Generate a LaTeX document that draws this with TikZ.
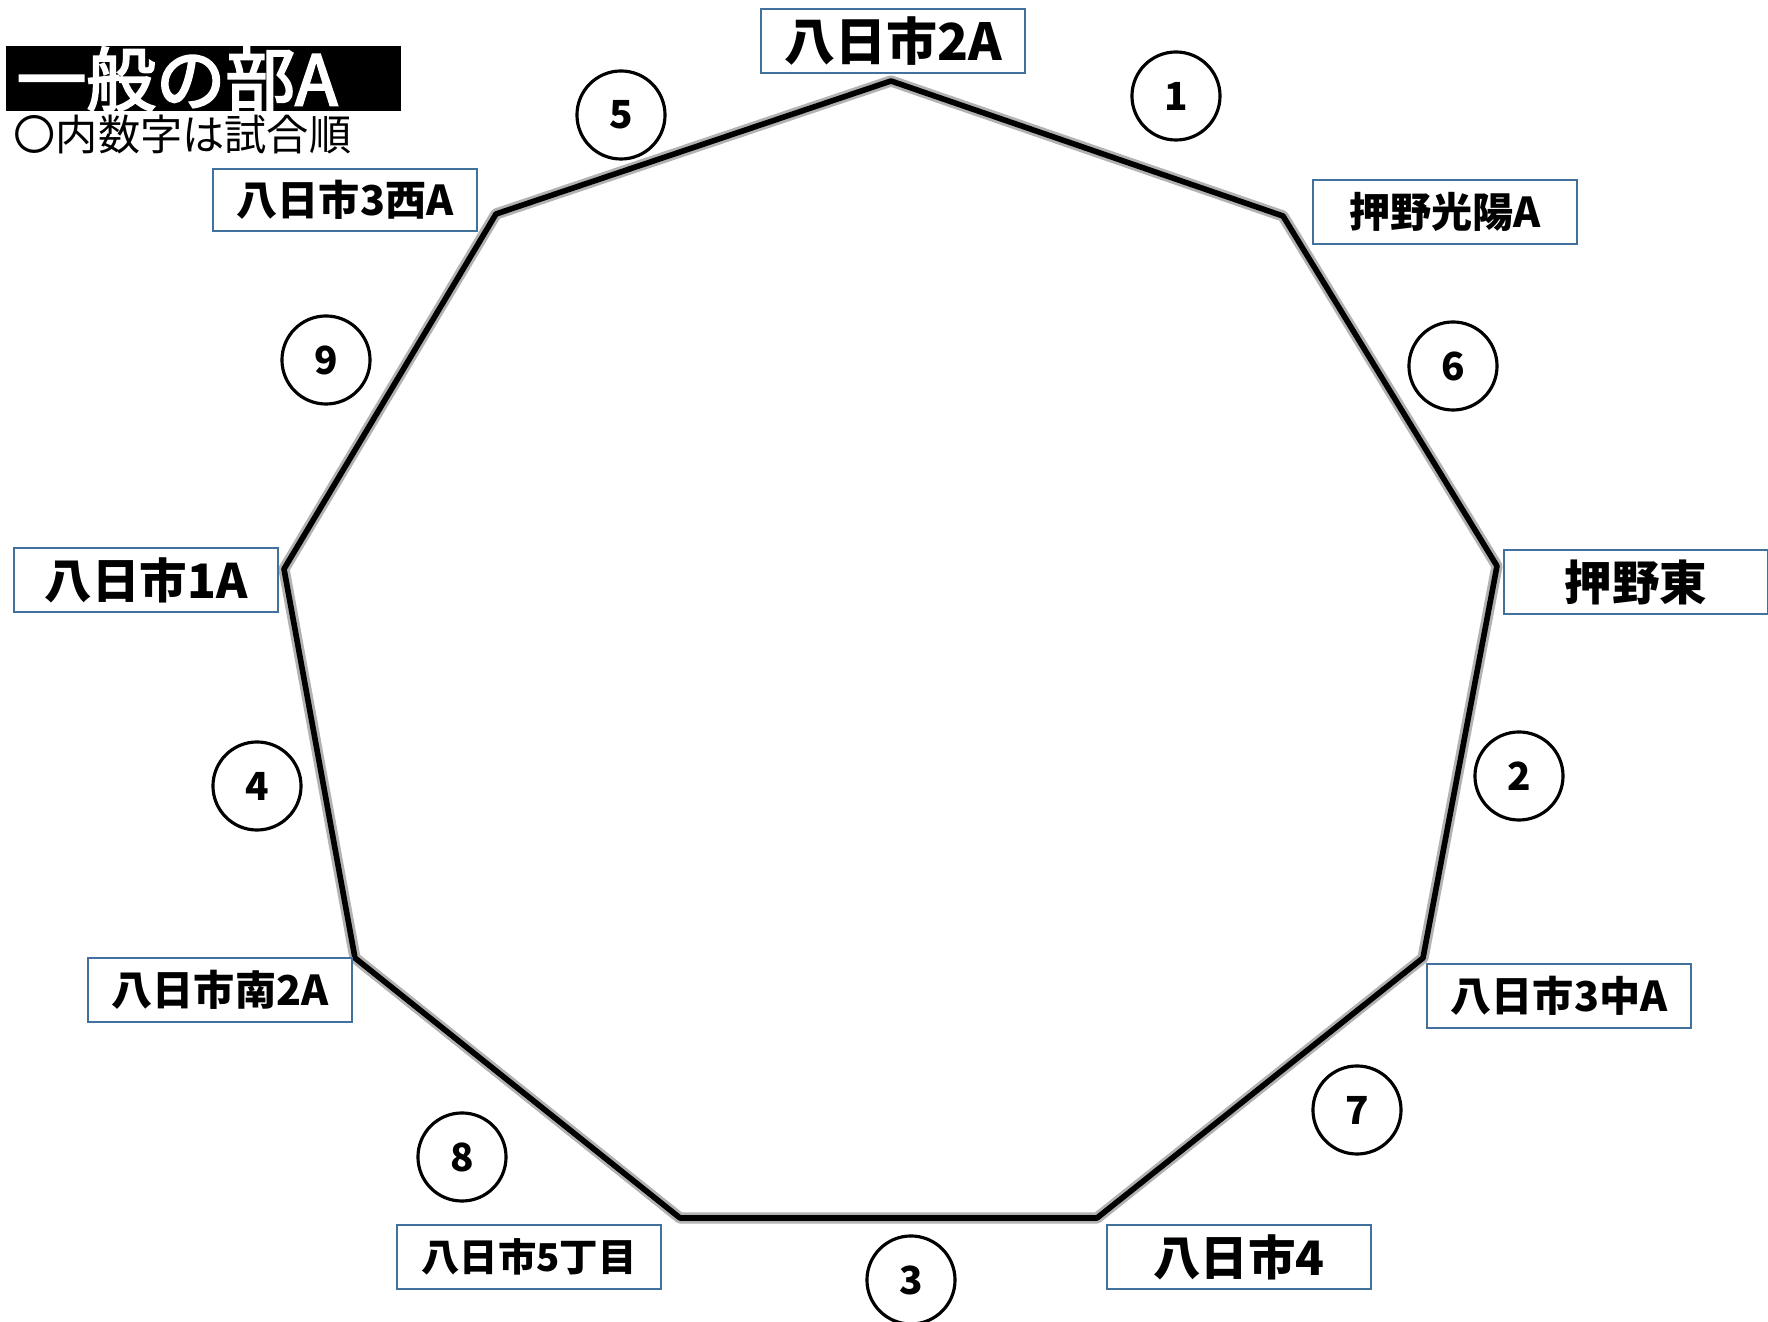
\documentclass[tikz,border=0pt]{standalone}
\usepackage{fontspec}
\newfontfamily\jpfont{Noto Sans CJK JP}
\newfontfamily\jpthick{Noto Sans CJK JP}[FakeBold=3]
\definecolor{teamblue}{HTML}{41719C}

\begin{document}
\begin{tikzpicture}[x=0.01cm,y=-0.01cm,
        team/.style={draw=teamblue,line width=0.8pt,fill=white,minimum width=2.64cm,minimum height=0.64cm,inner sep=0pt,font=\jpfont\bfseries\fontsize{11.7}{12}\selectfont},
        bigteam/.style={team,font=\jpfont\bfseries\fontsize{13.5}{14}\selectfont},
        game/.style={circle,draw=black,line width=0.9pt,minimum size=0.88cm,inner sep=0pt,font=\jpfont\bfseries\fontsize{11}{11}\selectfont},
        ringshade/.style={black!30,line width=3.2pt,line join=round},
        ring/.style={black,line width=1.6pt,line join=round}]
        \useasboundingbox (0,0) rectangle (1768,1322);
        % corners of the ring
        \coordinate (v1) at (891,81);
        \coordinate (v2) at (1283,216);
        \coordinate (v3) at (1497,566);
        \coordinate (v4) at (1423,958);
        \coordinate (v5) at (1097,1218);
        \coordinate (v6) at (680,1218);
        \coordinate (v7) at (355,958);
        \coordinate (v8) at (284,569);
        \coordinate (v9) at (496,214);
        \draw [ringshade] (v1) -- (v2) -- (v3) -- (v4) -- (v5) -- (v6) -- (v7) -- (v8) -- (v9) -- cycle;
        \draw [ring] (v1) -- (v2) -- (v3) -- (v4) -- (v5) -- (v6) -- (v7) -- (v8) -- (v9) -- cycle;
        % title
        \fill [black] (6,46) rectangle (401,111);
        \node (title) [anchor=west,text=white,inner sep=0pt,font=\jpthick\fontsize{19.8}{20}\selectfont] at (16,79) {一般の部A};
        \node (note) [anchor=west,inner sep=0pt,font=\jpfont\fontsize{12}{12}\selectfont] at (13,134) {〇内数字は試合順};
        % teams
        \node (t1) [bigteam,font=\jpfont\bfseries\fontsize{14.5}{15}\selectfont] at (893,41) {八日市2A};
        \node (t2) [team] at (1445,212) {押野光陽A};
        \node (t3) [bigteam] at (1636,582) {押野東};
        \node (t4) [team] at (1559,996) {八日市3中A};
        \node (t5) [bigteam] at (1239,1257) {八日市4};
        \node (t6) [team,font=\jpfont\bfseries\fontsize{10.9}{11}\selectfont] at (529,1257) {八日市5丁目};
        \node (t7) [team] at (220,990) {八日市南2A};
        \node (t8) [bigteam] at (146,580) {八日市1A};
        \node (t9) [team,minimum height=0.62cm] at (345,200) {八日市3西A};
        % game order
        \node (g1) [game] at (1176,96) {1};
        \node (g2) [game] at (1519,776) {2};
        \node (g3) [game] at (911,1280) {3};
        \node (g4) [game] at (257,786) {4};
        \node (g5) [game] at (621,115) {5};
        \node (g6) [game] at (1453,366) {6};
        \node (g7) [game] at (1357,1110) {7};
        \node (g8) [game] at (462,1157) {8};
        \node (g9) [game] at (326,360) {9};
\end{tikzpicture}
\end{document}
